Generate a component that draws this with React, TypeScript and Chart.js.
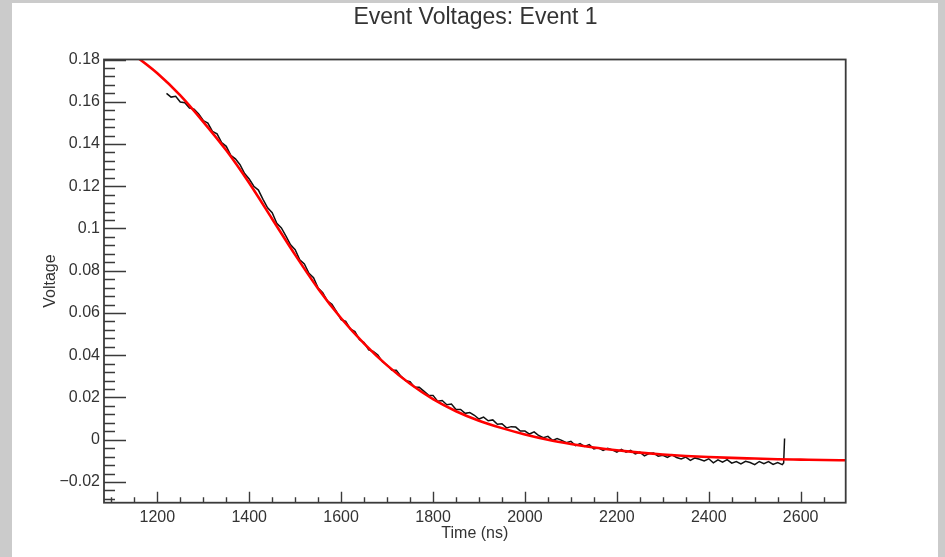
import { useEffect, useRef } from 'react';
import { Chart, registerables } from 'chart.js';

Chart.register(...registerables);

// ---------- text ----------
const TITLE = 'Event Voltages: Event 1';
const X_TITLE = 'Time (ns)';
const Y_TITLE = 'Voltage';

// ---------- axes ----------
const X_MIN = 1084;
const X_MAX = 2698;
const Y_MIN = -0.0298;
const Y_MAX = 0.18;
const X_MAJOR = [1200, 1400, 1600, 1800, 2000, 2200, 2400, 2600];
const X_LABELS = ['1200', '1400', '1600', '1800', '2000', '2200', '2400', '2600'];
const Y_MAJOR = [-0.02, 0, 0.02, 0.04, 0.06, 0.08, 0.1, 0.12, 0.14, 0.16, 0.18];
const Y_LABELS = ['\u22120.02', '0', '0.02', '0.04', '0.06', '0.08', '0.1', '0.12', '0.14', '0.16', '0.18'];
const X_MINOR_STEP = 50;
const Y_MINOR_STEP = 0.004;

// ---------- measured waveform (black) ----------
const TIME_NS = [
  1220, 1230, 1240, 1250, 1260, 1270, 1280, 1290, 1300, 1310,
  1320, 1330, 1340, 1350, 1360, 1370, 1380, 1390, 1400, 1410,
  1420, 1430, 1440, 1450, 1460, 1470, 1480, 1490, 1500, 1510,
  1520, 1530, 1540, 1550, 1560, 1570, 1580, 1590, 1600, 1610,
  1620, 1630, 1640, 1650, 1660, 1670, 1680, 1690, 1700, 1710,
  1720, 1730, 1740, 1750, 1760, 1770, 1780, 1790, 1800, 1810,
  1820, 1830, 1840, 1850, 1860, 1870, 1880, 1890, 1900, 1910,
  1920, 1930, 1940, 1950, 1960, 1970, 1980, 1990, 2000, 2010,
  2020, 2030, 2040, 2050, 2060, 2070, 2080, 2090, 2100, 2110,
  2120, 2130, 2140, 2150, 2160, 2170, 2180, 2190, 2200, 2210,
  2220, 2230, 2240, 2250, 2260, 2270, 2280, 2290, 2300, 2310,
  2320, 2330, 2340, 2350, 2360, 2370, 2380, 2390, 2400, 2410,
  2420, 2430, 2440, 2450, 2460, 2470, 2480, 2490, 2500, 2510,
  2520, 2530, 2540, 2550, 2560, 2563, 2565,
];
const VOLTAGE = [
  0.1640, 0.1622, 0.1626, 0.1599, 0.1595, 0.1570, 0.1565, 0.1542, 0.1511, 0.1499,
  0.1460, 0.1448, 0.1407, 0.1389, 0.1346, 0.1330, 0.1302, 0.1260, 0.1234, 0.1200,
  0.1182, 0.1138, 0.1098, 0.1075, 0.1025, 0.1003, 0.0964, 0.0923, 0.0900, 0.0852,
  0.0832, 0.0788, 0.0767, 0.0718, 0.0696, 0.0657, 0.0641, 0.0607, 0.0569, 0.0560,
  0.0525, 0.0512, 0.0474, 0.0460, 0.0425, 0.0418, 0.0401, 0.0369, 0.0354, 0.0330,
  0.0329, 0.0301, 0.0280, 0.0275, 0.0248, 0.0248, 0.0230, 0.0211, 0.0210, 0.0182,
  0.0186, 0.0166, 0.0169, 0.0143, 0.0143, 0.0125, 0.0129, 0.0116, 0.0098, 0.0107,
  0.0090, 0.0094, 0.0073, 0.0076, 0.0056, 0.0062, 0.0060, 0.0041, 0.0041, 0.0027,
  0.0037, 0.0020, 0.0010, 0.0016, -0.0003, 0.0006, -0.0003, -0.0014, -0.0007, -0.0028,
  -0.0018, -0.0032, -0.0023, -0.0043, -0.0038, -0.0050, -0.0040, -0.0048, -0.0059, -0.0046,
  -0.0059, -0.0050, -0.0067, -0.0059, -0.0076, -0.0065, -0.0063, -0.0078, -0.0074, -0.0084,
  -0.0071, -0.0084, -0.0091, -0.0082, -0.0098, -0.0086, -0.0092, -0.0100, -0.0090, -0.0109,
  -0.0095, -0.0106, -0.0094, -0.0111, -0.0103, -0.0114, -0.0102, -0.0108, -0.0118, -0.0103,
  -0.0113, -0.0103, -0.0117, -0.0108, -0.0118, -0.0110, 0.0006,
];

// ---------- fit curve (red) ----------
const FIT_TIME_NS = [
  1080, 1100, 1150, 1200, 1250, 1300, 1350, 1400, 1450, 1500,
  1550, 1600, 1650, 1700, 1750, 1800, 1850, 1900, 1950, 2000,
  2050, 2100, 2150, 2200, 2250, 2300, 2350, 2400, 2450, 2500,
  2550, 2600, 2650, 2700,
];
const FIT_VOLTAGE = [
  0.1925, 0.1895, 0.1820, 0.1735, 0.1630, 0.1505, 0.1370, 0.1215, 0.1045, 0.0875,
  0.0715, 0.0575, 0.0455, 0.0352, 0.0265, 0.0192, 0.0135, 0.0090, 0.0055, 0.0025,
  0.0000, -0.0020, -0.0037, -0.0050, -0.0061, -0.0070, -0.0077, -0.0082, -0.0086, -0.0089,
  -0.0092, -0.0094, -0.0096, -0.0097,
];

const FONT = '"Liberation Sans", Arial, Helvetica, sans-serif';
const TEXT_COLOR = '#333';
const AXIS_COLOR = '#3a3a3a';

const rootFrame = {
  id: 'rootFrame',
  afterDraw(chart: any) {
    const { ctx, width } = chart;
    ctx.save();
    ctx.fillStyle = TEXT_COLOR;
    ctx.font = `normal 23px ${FONT}`;
    ctx.textAlign = 'center';
    ctx.textBaseline = 'middle';
    ctx.fillText(TITLE, (12 + width - 6) / 2, 18);
    ctx.restore();
  },
  afterDatasetsDraw(chart: any) {
    const { ctx, chartArea: a, scales } = chart;
    const xs = scales.x;
    const ys = scales.y;
    ctx.save();
    ctx.strokeStyle = AXIS_COLOR;
    ctx.lineWidth = 1.4;
    ctx.beginPath();
    const x0 = Math.ceil(X_MIN / X_MINOR_STEP);
    const x1 = Math.floor(X_MAX / X_MINOR_STEP);
    for (let i = x0; i <= x1; i++) {
      const v = i * X_MINOR_STEP;
      const major = X_MAJOR.some((m) => Math.abs(m - v) < 1e-6);
      const px = Math.round(xs.getPixelForValue(v)) + 0.5;
      ctx.moveTo(px, a.bottom);
      ctx.lineTo(px, a.bottom - (major ? 11 : 5.5));
    }
    const y0 = Math.ceil(Y_MIN / Y_MINOR_STEP - 1e-9);
    const y1 = Math.floor(Y_MAX / Y_MINOR_STEP + 1e-9);
    for (let i = y0; i <= y1; i++) {
      const v = i * Y_MINOR_STEP;
      const major = Y_MAJOR.some((m) => Math.abs(m - v) < 1e-9);
      const py = Math.round(ys.getPixelForValue(v)) + 0.5;
      ctx.moveTo(a.left, py);
      ctx.lineTo(a.left + (major ? 22 : 11), py);
    }
    ctx.stroke();
    ctx.lineWidth = 1.8;
    ctx.strokeRect(a.left, a.top, a.right - a.left, a.bottom - a.top);
    ctx.restore();
  },
};

export default function App() {
  const ref = useRef<HTMLCanvasElement>(null);

  useEffect(() => {
    if (!ref.current) return;
    const chart = new Chart(ref.current, {
      type: 'line',
      data: {
        datasets: [
          {
            label: 'Fit',
            data: FIT_TIME_NS.map((t, i) => ({ x: t, y: FIT_VOLTAGE[i] })),
            borderColor: '#ff0000',
            borderWidth: 2.6,
            pointRadius: 0,
            cubicInterpolationMode: 'monotone',
            clip: 0,
            order: 0,
          },
          {
            label: 'Voltage',
            data: TIME_NS.map((t, i) => ({ x: t, y: VOLTAGE[i] })),
            borderColor: '#111111',
            borderWidth: 1.5,
            pointRadius: 0,
            tension: 0,
            clip: 0,
            order: 1,
          },
        ],
      },
      options: {
        responsive: false,
        animation: false,
        devicePixelRatio: 1,
        layout: { padding: { left: 12, right: 99.3, top: 59.5, bottom: 0 } },
        plugins: {
          legend: { display: false },
          tooltip: { enabled: false },
          title: { display: false },
        },
        scales: {
          x: {
            type: 'linear',
            min: X_MIN,
            max: X_MAX,
            grid: { display: false, drawTicks: false },
            border: { display: false },
            afterBuildTicks: (s: any) => {
              s.ticks = X_MAJOR.map((v) => ({ value: v }));
            },
            afterFit: (s: any) => {
              s.height = 54.3;
            },
            ticks: {
              autoSkip: false,
              maxRotation: 0,
              padding: 5.5,
              color: TEXT_COLOR,
              font: { family: FONT, size: 16 },
              callback: (v: any) => {
                const i = X_MAJOR.findIndex((m) => Math.abs(m - Number(v)) < 1e-6);
                return i >= 0 ? X_LABELS[i] : '';
              },
            },
            title: {
              display: true,
              text: X_TITLE,
              color: TEXT_COLOR,
              font: { family: FONT, size: 16 },
              padding: { top: 0, bottom: 14 },
            },
          },
          y: {
            type: 'linear',
            min: Y_MIN,
            max: Y_MAX,
            grid: { display: false, drawTicks: false },
            border: { display: false },
            afterBuildTicks: (s: any) => {
              s.ticks = Y_MAJOR.map((v) => ({ value: v }));
            },
            afterFit: (s: any) => {
              s.width = 92;
            },
            ticks: {
              autoSkip: false,
              padding: 4,
              color: TEXT_COLOR,
              font: { family: FONT, size: 16 },
              callback: (v: any) => {
                const i = Y_MAJOR.findIndex((m) => Math.abs(m - Number(v)) < 1e-9);
                return i >= 0 ? Y_LABELS[i] : '';
              },
            },
            title: {
              display: true,
              text: Y_TITLE,
              color: TEXT_COLOR,
              font: { family: FONT, size: 16 },
              padding: { top: 29.4, bottom: 0 },
            },
          },
        },
      },
      plugins: [rootFrame],
    } as any);
    return () => chart.destroy();
  }, []);

  return (
    <div style={{ position: 'fixed', left: 0, top: 0, width: 945, height: 557, background: '#cbcbcb', overflow: 'hidden' }}>
      <div style={{ position: 'absolute', left: 12, top: 3, width: 926, height: 554, background: '#ffffff' }} />
      <canvas
        ref={ref}
        width={945}
        height={557}
        style={{ position: 'absolute', left: 0, top: 0, width: 945, height: 557 }}
      />
    </div>
  );
}
